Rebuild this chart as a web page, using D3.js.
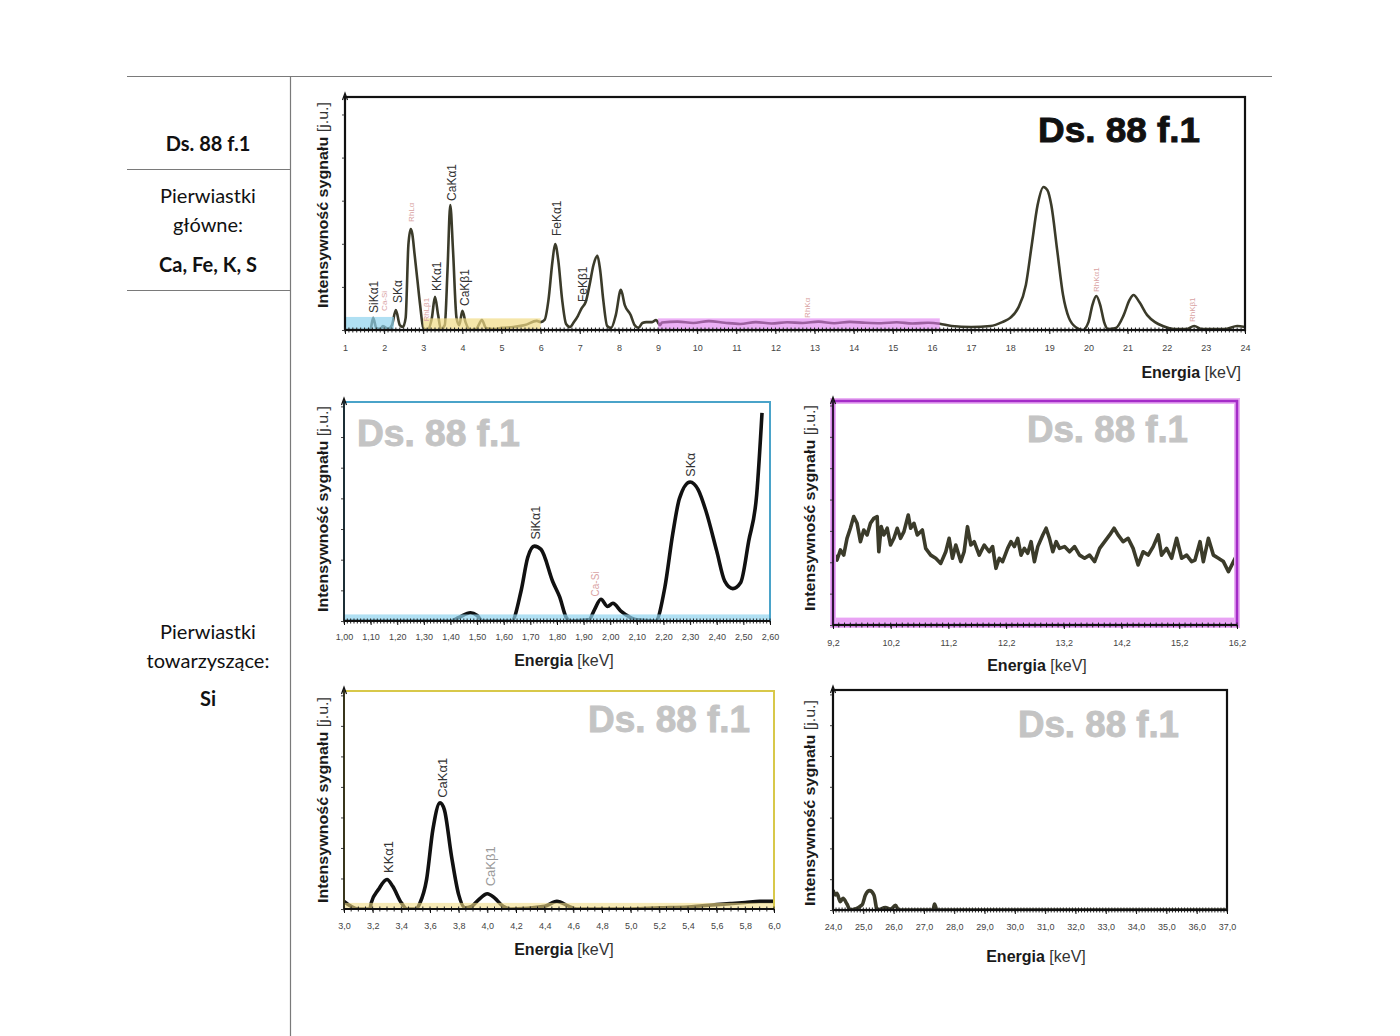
<!DOCTYPE html>
<html><head><meta charset="utf-8">
<script src="https://cdn.jsdelivr.net/npm/d3@7"></script>
<style>body{margin:0;background:#fff}</style>
</head><body>
<svg id="c" width="1400" height="1036"></svg>
<script>
// ---------------- DATA ----------------
const sampleName = "Ds. 88 f.1";
const yLabelBold = "Intensywność sygnału ";
const yLabelUnit = "[j.u.]";
const xLabelBold = "Energia ";
const xLabelUnit = "[keV]";

// full spectrum 1-24 keV
const topEnergy = [1.0,1.5,1.65,1.72,1.8,1.9,1.97,2.1,2.2,2.3,2.4,2.48,2.55,2.62,2.68,2.72,2.78,2.85,2.92,3.0,3.1,3.22,3.3,3.38,3.45,3.55,3.62,3.69,3.76,3.85,3.92,4.0,4.08,4.2,4.35,4.5,4.6,4.8,5.0,5.3,5.6,5.9,6.0,6.1,6.2,6.3,6.37,6.45,6.55,6.65,6.75,6.85,6.95,7.05,7.15,7.25,7.35,7.45,7.52,7.6,7.7,7.8,7.92,8.05,8.15,8.3,8.4,8.5,8.6,8.7,8.85,8.95,9.05,
  9.1,9.5,9.9,10.3,10.7,11.1,11.5,11.9,12.3,12.7,13.1,13.5,13.9,14.3,14.7,15.1,15.5,15.9,16.2,
  16.5,17,17.5,17.8,18.0,18.2,18.4,18.55,18.7,18.85,18.95,19.05,19.2,19.35,19.5,19.7,19.85,20.0,20.1,20.2,20.3,20.4,20.5,20.7,20.9,21.05,21.15,21.3,21.5,21.7,21.9,22.2,22.5,22.7,22.9,23.5,23.8,24.0];
const topIntensity = [0,0,0.4,5.2,0.9,0.4,1.7,0.4,2.1,8.6,2.1,1.3,5.2,36.5,43.3,41.2,32.2,21.5,10.7,0.9,0,5.2,14.2,6.4,0.4,2.1,25.8,53.6,34.3,5.2,2.1,8.2,3.4,0,0.4,4.3,0.9,0.4,0.9,1.3,2.1,3.9,3.4,4.3,12.9,29.2,36.9,30,12.9,2.6,1.3,3.4,6.0,9.4,12,19.3,27.9,31.8,25.8,12.9,1.7,0.9,6.4,17.2,10.7,6.4,2.1,0.9,3.0,3.4,3.4,4.3,2.1,
  3.2,3.6,3.0,3.8,3.1,2.6,3.4,2.8,3.3,3.0,3.6,2.9,3.5,3.1,2.9,3.3,2.8,3.1,2.7,
  1.7,1.3,1.7,3.4,5.2,9.4,19.3,36.5,53.6,61.4,60,53.6,34.3,15,5.2,0.9,0,3.4,10.7,14.6,10.7,3.4,0.4,0.9,6.4,12.9,15,12,6.4,3.4,1.7,0.4,0.4,1.7,0.4,0.4,1.7,1.3];
const topTicks = [1,2,3,4,5,6,7,8,9,10,11,12,13,14,15,16,17,18,19,20,21,22,23,24];
const topPeakNames  = ["SiKα1","Ca-Si","SKα","RhLα","RhLβ1","KKα1","CaKα1","CaKβ1","FeKα1","FeKβ1","RhKα","RhKα1","RhKβ1"];
const topPeakEnergy = [1.74,2.02,2.35,2.71,3.07,3.35,3.73,4.06,6.43,7.07,12.82,20.2,22.65];
const topPeakLevel  = [7.3,8.2,11.6,46.4,3.6,16.7,55.4,10.3,40.3,12,5.2,16.3,3.4];
const topPeakMinor  = [false,true,false,true,true,false,false,false,false,false,true,true,true];

// zoom 1.00-2.60 keV (Si, S)
const siEnergy = [1.00,1.40,1.43,1.475,1.50,1.52,1.63,1.665,1.69,1.715,1.74,1.785,1.81,1.835,1.85,1.92,1.94,1.965,1.99,2.01,2.04,2.07,2.10,2.17,2.205,2.235,2.26,2.30,2.33,2.36,2.40,2.43,2.46,2.49,2.52,2.55,2.57];
const siIntensity = [0,0,1.5,3.8,2.5,0,0,13.7,29,34.2,32.7,17.7,11,1.5,0,0.5,5,9.9,6.6,8.1,4.5,2,0.5,0,15.3,40,56,63.5,60,50,31.9,18.2,14.8,17.6,36.5,57.7,95];
const siTicks = [1.0,1.1,1.2,1.3,1.4,1.5,1.6,1.7,1.8,1.9,2.0,2.1,2.2,2.3,2.4,2.5,2.6];
const siPeakNames = ["SiKα1","Ca-Si","SKα"];
const siPeakEnergy = [1.723,1.945,2.303];
const siPeakLevel = [37.2,11.2,65.9];
const siPeakMinor = [false,true,false];

// zoom 9.2-16.2 keV (background)
const bgEnergy = [9.200,9.270,9.328,9.386,9.443,9.501,9.559,9.617,9.675,9.733,9.791,9.849,9.907,9.965,9.994,10.035,10.081,10.139,10.197,10.255,10.313,10.371,10.429,10.504,10.545,10.603,10.661,10.748,10.806,10.893,10.980,11.067,11.154,11.212,11.270,11.328,11.414,11.472,11.530,11.588,11.646,11.733,11.820,11.907,11.965,12.023,12.081,12.139,12.226,12.284,12.342,12.400,12.458,12.516,12.574,12.632,12.690,12.748,12.835,12.893,12.951,13.009,13.067,13.125,13.212,13.299,13.386,13.472,13.559,13.646,13.733,13.820,13.907,13.994,14.070,14.139,14.226,14.313,14.400,14.487,14.574,14.661,14.748,14.835,14.893,14.980,15.067,15.154,15.241,15.328,15.414,15.472,15.559,15.617,15.704,15.791,15.878,15.965,16.052,16.139,16.197];
const bgIntensity = [32.7,29.0,33.5,31.2,38.7,43.2,48.4,45.4,37.2,42.4,40.2,45.4,47.6,48.4,32.7,43.9,40.2,43.2,35.7,38.7,43.2,38.7,41.7,49.1,43.2,45.4,40.2,42.4,34.2,31.2,29.8,27.5,32.7,38.7,29.8,35.7,28.3,32.7,43.9,35.7,37.2,31.2,35.7,32.7,35.0,25.3,29.8,28.3,34.2,37.2,35.0,38.7,31.2,34.2,32.0,37.2,28.3,35.0,40.2,43.2,38.7,32.7,37.2,34.2,35.0,32.7,35.0,31.2,29.8,31.2,28.3,34.2,37.2,40.2,43.2,40.2,37.2,38.7,34.2,26.8,32.7,31.2,35.0,40.2,31.2,34.2,29.8,38.7,29.8,31.2,28.3,29.0,37.2,28.3,38.7,31.2,29.8,28.3,23.8,28.3,31.2];
const bgTicks = [9.2,10.2,11.2,12.2,13.2,14.2,15.2,16.2];

// zoom 3.0-6.0 keV (K, Ca)
const caEnergy = [3.00,3.05,3.10,3.18,3.19,3.24,3.30,3.34,3.40,3.44,3.50,3.53,3.576,3.62,3.67,3.70,3.75,3.80,3.845,3.89,3.94,4.00,4.05,4.11,4.17,4.40,4.485,4.57,4.62,5.0,5.2,5.4,5.5,5.6,5.7,5.8,5.9,6.0];
const caIntensity = [3.5,1.2,0,0,2.8,8.9,13.5,10.4,2.8,0,0,2.8,13.5,36.4,48.7,45.6,24.2,6.6,0.5,1.2,4.3,7.0,5.1,1.2,0,1.2,3.5,1.2,0,0,0.5,0.9,1.5,2.0,2.5,3.0,3.5,3.5];
const caTicks = [3.0,3.2,3.4,3.6,3.8,4.0,4.2,4.4,4.6,4.8,5.0,5.2,5.4,5.6,5.8,6.0];
const caPeakNames = ["KKα1","CaKα1","CaKβ1"];
const caPeakEnergy = [3.31,3.69,4.02];
const caPeakLevel = [16.5,51,10.4];
const caPeakMinor = [false,false,true];

// zoom 24-37 keV
const hiEnergy = [24.00,24.08,24.13,24.24,24.33,24.46,24.57,24.96,25.07,25.21,25.35,25.46,25.73,25.90,26.06,26.17,27.30,27.35,27.43,37.0];
const hiIntensity = [9.1,6.8,7.6,3.8,5.3,2.7,0,2.3,6.8,8.8,6.8,0,1.1,0.3,2.1,0,0,2.7,0,0];
const hiTicks = [24,25,26,27,28,29,30,31,32,33,34,35,36,37];

// ---------------- DRAW ----------------
const svg = d3.select('#c');
const SANS = "'Liberation Sans', Arial, sans-serif";
const comma = d => d3.format('.1f')(d).replace('.', ',');
const comma2 = d => d3.format('.2f')(d).replace('.', ',');

// page rules
svg.append('line').attr('x1',127).attr('x2',1272).attr('y1',76.5).attr('y2',76.5).attr('stroke','#7a7a7a').attr('stroke-width',1.2);
svg.append('line').attr('x1',290.5).attr('x2',290.5).attr('y1',76).attr('y2',1036).attr('stroke','#7a7a7a').attr('stroke-width',1.2);
[169.5,290.5].forEach(yy=>svg.append('line').attr('x1',127).attr('x2',290).attr('y1',yy).attr('y2',yy).attr('stroke','#7a7a7a').attr('stroke-width',1.2));

const tfont = "Lato, 'Open Sans', sans-serif";
const tbl = [
  {t:"Ds. 88 f.1", y:151, b:true},
  {t:"Pierwiastki", y:203, b:false},
  {t:"główne:", y:232, b:false},
  {t:"Ca, Fe, K, S", y:272, b:true},
  {t:"Pierwiastki", y:639, b:false},
  {t:"towarzyszące:", y:668, b:false},
  {t:"Si", y:706, b:true}
];
tbl.forEach(d=>svg.append('text').attr('x',208).attr('y',d.y).attr('text-anchor','middle')
  .attr('font-family',tfont).attr('font-size',20).attr('font-weight',d.b?700:400).attr('fill','#111').text(d.t));

function panel(o){
  const g = svg.append('g');
  const x = d3.scaleLinear().domain(o.domain).range([o.x0,o.x1]);
  const y = d3.scaleLinear().domain([0,100]).range([o.y1,o.y0]);
  const id = 'clip'+Math.round(o.x0)+'_'+Math.round(o.y0);
  svg.append('clipPath').attr('id',id).append('rect').attr('x',o.x0).attr('y',o.y0-2).attr('width',o.x1-o.x0).attr('height',o.y1-o.y0+2);

  // title
  g.append('text').attr('x',o.tx).attr('y',o.ty).attr('font-family',SANS).attr('font-weight',700)
    .attr('font-size',o.tsize).attr('fill',o.tcolor).attr('stroke',o.tcolor).attr('stroke-width',0.9)
    .attr('textLength',o.tlen).attr('lengthAdjust','spacingAndGlyphs').text(sampleName);

  // spectrum line
  const line = d3.line().x((d,i)=>x(o.E[i])).y(d=>y(d)).curve(o.curve||d3.curveMonotoneX);
  g.append('path').datum(o.I).attr('clip-path','url(#'+id+')').attr('d',line)
    .attr('fill','none').attr('stroke',o.lcolor).attr('stroke-width',o.lwidth).attr('stroke-linejoin','round');

  // bands (drawn over line, translucent)
  (o.bands||[]).forEach(b=>{
    g.append('rect').attr('x',x(b.from)).attr('width',x(b.to)-x(b.from)).attr('y',y(b.h)).attr('height',y(0)-y(b.h))
      .attr('fill',b.c).attr('opacity',b.op);
  });

  // frame
  if(o.halo) g.append('rect').attr('x',o.x0).attr('y',o.y0).attr('width',o.x1-o.x0).attr('height',o.y1-o.y0)
      .attr('fill','none').attr('stroke',o.halo).attr('stroke-width',6);
  g.append('rect').attr('x',o.x0).attr('y',o.y0).attr('width',o.x1-o.x0).attr('height',o.y1-o.y0)
    .attr('fill','none').attr('stroke',o.frame).attr('stroke-width',o.frameW);

  // y axis (black, arrow, ticks no labels)
  const ya = d3.axisLeft(y).tickValues(o.yTicks).tickSize(3).tickFormat('');
  const gy = g.append('g').attr('transform',`translate(${o.x0},0)`).call(ya);
  gy.select('.domain').remove();
  gy.selectAll('line').attr('stroke','#444');
  g.append('line').attr('x1',o.x0).attr('x2',o.x0).attr('y1',o.y1).attr('y2',o.y0-3).attr('stroke','#111').attr('stroke-width',1.6);
  g.append('path').attr('d',`M${o.x0-2.5},${o.y0+3} L${o.x0},${o.y0-4} L${o.x0+2.5},${o.y0+3}`).attr('fill','none').attr('stroke','#111').attr('stroke-width',1.2);

  // x axis: minor hatching
  const minor = d3.range(o.domain[0], o.domain[1]+1e-9, o.minorStep);
  const gm = g.append('g');
  gm.selectAll('line').data(minor).join('line')
    .attr('x1',d=>x(d)).attr('x2',d=>x(d)).attr('y1',o.y1-2.5).attr('y2',o.y1+2.5)
    .attr('stroke','#222').attr('stroke-width',1);
  g.append('line').attr('x1',o.x0).attr('x2',o.x1).attr('y1',o.y1).attr('y2',o.y1).attr('stroke','#111').attr('stroke-width',o.axisW||2);
  const xa = d3.axisBottom(x).tickValues(o.ticks).tickSize(4).tickFormat(o.fmt).tickPadding(o.tpad||9);
  const gx = g.append('g').attr('transform',`translate(0,${o.y1})`).call(xa);
  gx.select('.domain').remove();
  gx.selectAll('line').attr('stroke','#111');
  gx.selectAll('text').attr('font-family',SANS).attr('font-size',9).attr('fill','#444');

  // peak labels
  (o.peaks||{names:[]}).names.forEach((n,i)=>{
    const px = x(o.peaks.E[i]), py = y(o.peaks.L[i]);
    const minorL = o.peaks.M[i];
    g.append('text').attr('transform',`translate(${px},${py}) rotate(-90)`).attr('dominant-baseline','central')
      .attr('font-family',SANS).attr('font-size',minorL?(o.minorFont||8):o.peakFont)
      .attr('fill',minorL?(o.minorColor||'#d9a3a3'):o.peakColor).text(n);
  });

  // axis titles
  const xl = g.append('text').attr('x',o.xlx).attr('y',o.xly).attr('text-anchor',o.xla).attr('font-family',SANS)
    .attr('font-size',16).attr('fill','#1a1a1a');
  xl.append('tspan').attr('font-weight',700).text(xLabelBold);
  xl.append('tspan').attr('font-weight',400).attr('fill','#333').text(xLabelUnit);

  const yl = g.append('text').attr('transform',`translate(${o.ylx},${o.yly}) rotate(-90)`).attr('text-anchor','middle')
    .attr('dominant-baseline','central').attr('font-family',SANS).attr('font-size',14.5).attr('fill','#1a1a1a')
    .attr('textLength',206).attr('lengthAdjust','spacingAndGlyphs');
  yl.append('tspan').attr('font-weight',700).text(yLabelBold);
  yl.append('tspan').attr('font-weight',400).attr('fill','#333').text(yLabelUnit);
}

// top full spectrum
panel({x0:345,x1:1245,y0:97,y1:330,domain:[1,24],E:topEnergy,I:topIntensity,
  ticks:topTicks,fmt:d3.format('d'),minorStep:0.1,tpad:11,
  frame:'#111',frameW:2.2,lcolor:'#3b3b2a',lwidth:2.6,
  yTicks:[0,18.5,37,55.5,74,92.5],
  bands:[{from:1.0,to:2.25,h:5.6,c:'#8fd3ee',op:0.7},{from:3.0,to:6.0,h:5,c:'#f1dc86',op:0.7},{from:9.0,to:16.2,h:5,c:'#e07cf0',op:0.6}],
  tx:1038,ty:142,tsize:35,tcolor:'#111',tlen:162,
  peaks:{names:topPeakNames,E:topPeakEnergy,L:topPeakLevel,M:topPeakMinor},peakFont:12,peakColor:'#333',minorFont:8,
  xlx:1241,xly:378,xla:'end',ylx:323,yly:205});

// Si / S zoom
panel({x0:344,x1:770,y0:402,y1:621,domain:[1.0,2.6],E:siEnergy,I:siIntensity,
  ticks:siTicks,fmt:comma2,minorStep:0.0125,
  frame:'#4aa3c9',frameW:2,lcolor:'#111',lwidth:3.6,
  yTicks:[0,14,28,42,56,70,84,98],
  bands:[{from:1.0,to:2.6,h:3,c:'#8fd3ee',op:0.7}],
  tx:357,ty:446,tsize:36,tcolor:'#c4c4c4',tlen:163,
  peaks:{names:siPeakNames,E:siPeakEnergy,L:siPeakLevel,M:siPeakMinor},peakFont:12.5,peakColor:'#333',minorFont:10,
  xlx:564,xly:666,xla:'middle',ylx:323,yly:509});

// background zoom 9.2-16.2
panel({x0:833,x1:1237,y0:401,y1:625,domain:[9.2,16.2],E:bgEnergy,I:bgIntensity,curve:d3.curveLinear,
  ticks:bgTicks,fmt:comma,minorStep:0.1,tpad:11,
  frame:'#a42cc8',frameW:2.6,halo:'#eab0f4',lcolor:'#3b3b2a',lwidth:3.6,
  yTicks:[0,14,28,42,56,70,84,98],
  bands:[{from:9.2,to:16.2,h:3.3,c:'#e07cf0',op:0.7}],
  tx:1027,ty:442,tsize:36,tcolor:'#c4c4c4',tlen:161,
  xlx:1037,xly:671,xla:'middle',ylx:810,yly:508});

// K / Ca zoom
panel({x0:344,x1:774,y0:691,y1:909,domain:[3.0,6.0],E:caEnergy,I:caIntensity,
  ticks:caTicks,fmt:comma,minorStep:0.05,tpad:10,
  frame:'#d8c84a',frameW:2,lcolor:'#111',lwidth:3.6,
  yTicks:[0,14,28,42,56,70,84,98],
  bands:[{from:3.0,to:6.0,h:2.8,c:'#f1dc86',op:0.6}],
  tx:588,ty:732,tsize:36,tcolor:'#c4c4c4',tlen:162,
  peaks:{names:caPeakNames,E:caPeakEnergy,L:caPeakLevel,M:caPeakMinor},peakFont:13,peakColor:'#333',minorFont:13,minorColor:'#9a9a9a',
  xlx:564,xly:955,xla:'middle',ylx:323,yly:800});

// 24-37 keV
panel({x0:833,x1:1227,y0:690,y1:910,domain:[24,37],E:hiEnergy,I:hiIntensity,
  ticks:hiTicks,fmt:comma,minorStep:0.1,tpad:10,
  frame:'#111',frameW:2.2,lcolor:'#3b3b2a',lwidth:3.6,
  yTicks:[0,14,28,42,56,70,84,98],
  tx:1018,ty:737,tsize:36,tcolor:'#c4c4c4',tlen:161,
  xlx:1036,xly:962,xla:'middle',ylx:810,yly:803});
</script>
</body></html>
